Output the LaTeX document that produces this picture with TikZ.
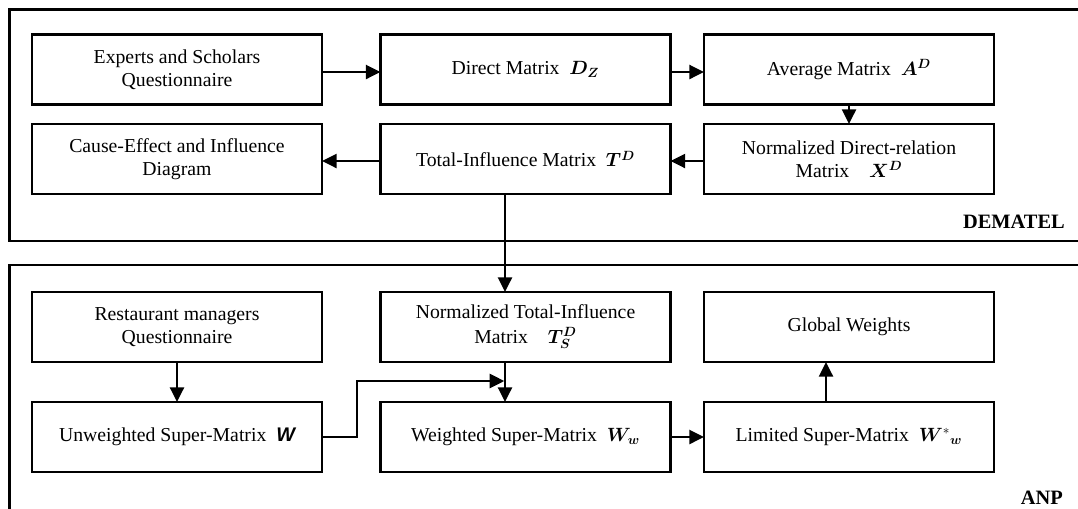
\documentclass[tikz,border=0pt]{standalone}
\usepackage{amsmath,bm}
\usepackage{fontspec}
\setmainfont{Liberation Serif}
\newfontfamily\arialfont{Liberation Sans}
\usetikzlibrary{arrows.meta}
\begin{document}
\begin{tikzpicture}[x=0.75pt,y=-0.75pt,
  box/.style={draw,line width=1.8pt,minimum width=217.5pt,minimum height=52.5pt,inner sep=0pt,outer sep=0pt,align=center,font=\fontsize{14.8}{17.5}\selectfont},
  frame/.style={draw,line width=1.8pt},
  arr/.style={line width=1.8pt,-{Triangle[length=11pt,width=10.5pt]}},
  tag/.style={font=\fontsize{15.3}{18}\selectfont\bfseries,anchor=east,inner sep=0pt}]
\useasboundingbox (0,0) rectangle (1078,508);
\begin{scope}
\clip (0,0) rectangle (1078,508);
\draw[frame] (9.6,9.3) rectangle (1100,241);
\draw[frame] (9.6,265) rectangle (1100,530);
\end{scope}
% DEMATEL
\node[box] (b1) at (177,69.5) {Experts and Scholars\\Questionnaire};
\node[box] (b2) at (525.5,69.5) {Direct Matrix\ \ $\bm{D_Z}$};
\node[box] (b3) at (849,69.5) {Average Matrix\ \ $\bm{A^D}$};
\node[box] (b4) at (177,159) {Cause-Effect and Influence\\Diagram};
\node[box] (b5) at (525.5,159) {Total-Influence Matrix\ \ $\bm{T^D}$};
\node[box] (b6) at (849,159) {Normalized Direct-relation\\Matrix\quad $\bm{X^D}$};
\node[tag] (lD) at (1065,222) {DEMATEL};
% ANP
\node[box] (b7) at (177,327) {Restaurant managers\\Questionnaire};
\node[box] (b8) at (525.5,327) {Normalized Total-Influence\\[1pt]Matrix\quad $\bm{T_S^D}$};
\node[box] (b9) at (849,327) {Global Weights};
\node[box] (b10) at (177,437) {Unweighted Super-Matrix\ \ {\arialfont\bfseries\itshape W}};
\node[box] (b11) at (525.5,437) {Weighted Super-Matrix\ \ $\bm{W_w}$};
\node[box] (b12) at (849,437) {Limited Super-Matrix\ \ $\bm{W}^{*}{}_{\bm{w}}$};
\node[tag] (lA) at (1063,498) {ANP};
% helper coordinates
\coordinate (r1) at (0,72);
\coordinate (r2) at (0,161);
\coordinate (c5) at (505,0);
\coordinate (c12) at (826,0);
\coordinate (k) at (357,381);
% connectors
\draw[arr] (b1.east |- r1) -- (b2.west |- r1);
\draw[arr] (b2.east |- r1) -- (b3.west |- r1);
\draw[arr] (b3) -- (b6);
\draw[arr] (b6.west |- r2) -- (b5.east |- r2);
\draw[arr] (b5.west |- r2) -- (b4.east |- r2);
\draw[arr] (b5.south -| c5) -- (b8.north -| c5);
\draw[arr] (b7) -- (b10);
\draw[arr] (b8.south -| c5) -- (b11.north -| c5);
\draw[arr,shorten >=0.5pt] (b10.east) -- (b10.east -| k) -- (k) -- (k -| c5);
\draw[arr] (b11) -- (b12);
\draw[arr] (b12.north -| c12) -- (b9.south -| c12);
\end{tikzpicture}
\end{document}
